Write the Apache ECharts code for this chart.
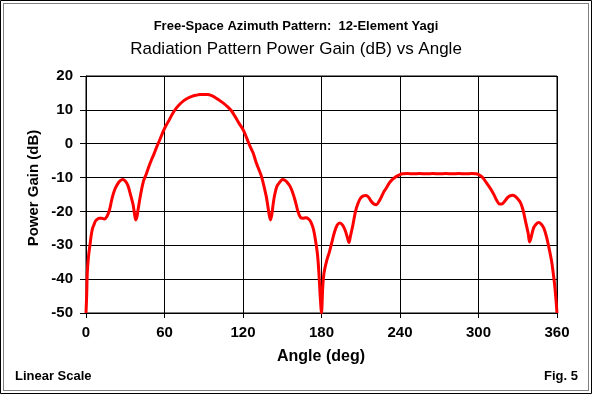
<!DOCTYPE html>
<html>
<head>
<meta charset="utf-8">
<script src="https://cdn.jsdelivr.net/npm/echarts@6/dist/echarts.min.js"></script>
<style>html,body{margin:0;padding:0;background:#fff}#c{width:592px;height:394px}</style>
</head>
<body>
<div id="c"></div>
<script>
var angles = [0,0.5,1,2,3,4,5,6,7,8,10,12,14,16,18,20,22,24,26,28,30,32,34,36,37,38,39,40,42,44,46,48,50,52,54,56,58,60,63,66,69,72,75,78,81,84,87,90,93,96,99,102,105,108,111,114,117,120,122,124,126,128,130,132,134,136,138,140,141,142,143,144,146,148,150,152,154,156,158,160,162,164,166,168,170,172,174,176,177,178,179,180,181,182,184,186,188,190,192,194,196,198,200,201,202,204,206,208,210,212,214,216,218,220,222,224,226,228,230,232,234,236,238,240,242,246,250,255,260,265,270,275,280,285,290,295,298,300,302,304,306,308,310,312,314,316,318,320,322,324,326,328,330,332,334,336,338,339,340,342,344,346,348,350,352,354,356,358,359,360];
var gains = [-50,-45,-38,-33,-30,-27,-25,-24,-23,-22.5,-22,-22,-22.2,-21.5,-19.5,-16,-13.5,-12,-11,-10.6,-11,-12.3,-15,-18,-20.5,-22.5,-21.5,-19,-14.5,-11,-9,-6.8,-4.8,-3,-1,0.8,2.7,4.5,6.6,8.8,10.5,11.8,12.8,13.5,14,14.3,14.5,14.5,14.5,14.2,13.6,12.8,12,11,9.8,8,6,4.2,2.5,0.5,-1.3,-3,-5.5,-7.5,-9.5,-12.5,-16,-21,-22.5,-21,-18,-15.5,-12.5,-11.4,-10.6,-10.8,-11.5,-12.6,-14.5,-17,-20,-21.8,-22,-21.9,-22.2,-23.2,-25.5,-30,-33,-38,-45,-50,-42,-38,-34.5,-32,-29,-26,-24,-23.4,-24,-25.5,-28,-29.2,-27.5,-24,-20,-17.5,-16,-15.4,-15.3,-15.8,-17,-17.8,-18,-17,-15.5,-14,-12.8,-11.5,-10.6,-10,-9.5,-9.1,-8.9,-8.8,-8.9,-8.8,-8.9,-8.8,-8.9,-8.8,-8.9,-8.8,-8.9,-8.8,-8.9,-9.1,-9.6,-10.4,-11.5,-12.6,-13.8,-15.2,-16.8,-17.8,-17.8,-17,-16,-15.4,-15.2,-15.5,-16.3,-17.3,-19.5,-23,-26.5,-29,-28,-25,-23.8,-23.3,-23.8,-25,-27.5,-31,-35,-41,-45,-50];
var xTicks = [0,60,120,180,240,300,360];
var yTicks = [-50,-40,-30,-20,-10,0,10,20];

var FONT = '"Liberation Sans", Arial, sans-serif';
var chart = echarts.init(document.getElementById('c'), null, {renderer:'canvas'});
var data = angles.map(function(a,i){return [a,gains[i]];});
chart.setOption({
  backgroundColor:'#ffffff',
  animation:false,
  grid:{left:86,right:35,top:76,bottom:81,show:true,borderColor:'#000',borderWidth:1},
  xAxis:{type:'value',min:xTicks[0],max:xTicks[xTicks.length-1],interval:60,
    axisLine:{show:true,onZero:false,lineStyle:{color:'#000',width:1}},
    axisTick:{show:true,inside:false,length:5,lineStyle:{color:'#000'}},
    axisLabel:{color:'#000',fontFamily:FONT,fontWeight:'bold',fontSize:15,margin:12},
    splitLine:{show:true,lineStyle:{color:'#000',width:1}}},
  yAxis:{type:'value',min:yTicks[0],max:yTicks[yTicks.length-1],interval:10,
    axisLine:{show:true,lineStyle:{color:'#000',width:1}},
    axisTick:{show:true,inside:false,length:6,lineStyle:{color:'#000'}},
    axisLabel:{color:'#000',fontFamily:FONT,fontWeight:'bold',fontSize:15,margin:13},
    splitLine:{show:true,lineStyle:{color:'#000',width:1}}},
  series:[{type:'line',data:data,showSymbol:false,smooth:0.3,
    lineStyle:{color:'#ff0000',width:3},itemStyle:{color:'#ff0000'}}],
  graphic:[
    {type:'rect',shape:{x:0.5,y:0.5,width:591,height:393},style:{fill:null,stroke:'#000',lineWidth:1},silent:true},
    {type:'rect',shape:{x:3.5,y:3.5,width:585,height:387},style:{fill:null,stroke:'#000',lineWidth:1,lineDash:[1,1]},silent:true},
    {type:'text',x:296,y:26,style:{text:'Free-Space Azimuth Pattern:  12-Element Yagi',font:'bold 13px '+FONT,fill:'#000',textAlign:'center',textVerticalAlign:'middle'}},
    {type:'text',x:296,y:49,style:{text:'Radiation Pattern Power Gain (dB) vs Angle',font:'17px '+FONT,fill:'#000',textAlign:'center',textVerticalAlign:'middle'}},
    {type:'text',x:321,y:357,style:{text:'Angle (deg)',font:'bold 16px '+FONT,fill:'#000',textAlign:'center',textVerticalAlign:'middle'}},
    {type:'text',x:34,y:188,rotation:Math.PI/2,style:{text:'Power Gain (dB)',font:'bold 15px '+FONT,fill:'#000',textAlign:'center',textVerticalAlign:'middle'}},
    {type:'text',x:15,y:376,style:{text:'Linear Scale',font:'bold 13px '+FONT,fill:'#000',textVerticalAlign:'middle'}},
    {type:'text',x:578,y:376,style:{text:'Fig. 5',font:'bold 13px '+FONT,fill:'#000',textAlign:'right',textVerticalAlign:'middle'}}
  ]
});
</script>
</body>
</html>
